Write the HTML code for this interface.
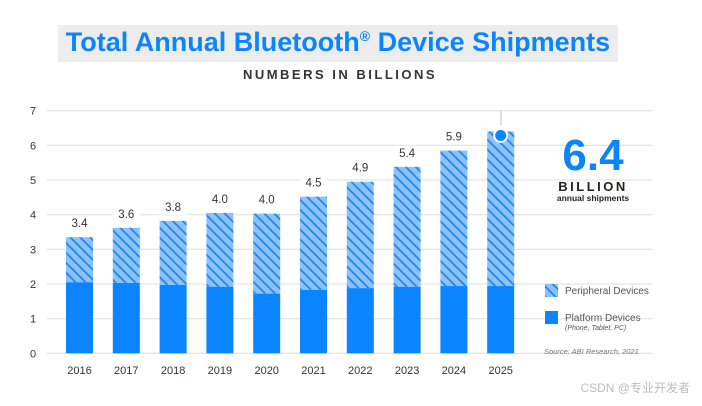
<!DOCTYPE html>
<html><head><meta charset="utf-8"><style>
body{margin:0;background:#fff;font-family:"Liberation Sans",sans-serif}
</style></head><body>
<svg width="702" height="401" viewBox="0 0 702 401" xmlns="http://www.w3.org/2000/svg">
<defs>
<pattern id="hatch" patternUnits="userSpaceOnUse" width="7" height="7" patternTransform="rotate(-45)">
<rect width="7" height="7" fill="#8cc3ff"/>
<rect x="0" y="0" width="1.8" height="7" fill="#1f86f5"/>
</pattern>
</defs>
<rect x="58" y="25" width="560" height="37" fill="#ececec"/>
<text x="338" y="51" text-anchor="middle" font-size="27" font-weight="bold" fill="#0a84ff">Total Annual Bluetooth<tspan font-size="14" dy="-10">®</tspan><tspan dy="10"> Device Shipments</tspan></text>
<text x="340" y="79" text-anchor="middle" font-size="13" font-weight="bold" fill="#333" letter-spacing="2.5">NUMBERS IN BILLIONS</text>
<g id="grid"></g>
<g id="bars"></g>
<g id="labels"></g>
<line x1="501" y1="111" x2="501" y2="125" stroke="#bbb" stroke-width="1"/>
<circle id="dot" cx="501" cy="132" r="6.5" fill="#0a84ff" stroke="#fff" stroke-width="2"/>
<text x="593" y="170" text-anchor="middle" font-size="44" font-weight="bold" fill="#0a84ff">6.4</text>
<text x="593" y="191" text-anchor="middle" font-size="13" font-weight="bold" fill="#222" letter-spacing="2.5">BILLION</text>
<text x="593" y="201" text-anchor="middle" font-size="8.5" font-weight="bold" fill="#222">annual shipments</text>
<rect x="545" y="284" width="13" height="13" fill="url(#hatch)"/>
<text x="565" y="294" font-size="10" fill="#555">Peripheral Devices</text>
<rect x="545" y="311" width="13" height="13" fill="#0a84ff"/>
<text x="565" y="321" font-size="10" fill="#555">Platform Devices</text>
<text x="565" y="330" font-size="7" font-style="italic" fill="#555">(Phone, Tablet, PC)</text>
<text x="544" y="354" font-size="7.5" font-style="italic" fill="#777">Source: ABI Research, 2021</text>
<text x="690" y="392" text-anchor="end" font-size="12" fill="#bbb" font-family="Liberation Sans, Noto Sans CJK SC, sans-serif">CSDN @专业开发者</text>
</svg>
<script>
const years=["2016","2017","2018","2019","2020","2021","2022","2023","2024","2025"];
const totals=[3.35,3.62,3.82,4.05,4.03,4.52,4.95,5.38,5.85,6.4];
const platform=[2.05,2.03,1.97,1.92,1.72,1.83,1.88,1.92,1.94,1.94];
const totalLabels=["3.4","3.6","3.8","4.0","4.0","4.5","4.9","5.4","5.9",""];
const ticks=[0,1,2,3,4,5,6,7];
const NS="http://www.w3.org/2000/svg";
const y=v=>353.3-v*34.66;
const x=i=>79.5+i*46.8;
const bw=27;
function mk(t,a,p){const e=document.createElementNS(NS,t);for(const k in a)e.setAttribute(k,a[k]);p.appendChild(e);return e;}
const grid=document.getElementById('grid'),bars=document.getElementById('bars'),labels=document.getElementById('labels');
ticks.forEach(t=>{
 const l=mk('line',{x1:47,x2:652,y1:y(t),y2:y(t),stroke:'#e4e4e4','stroke-width':1.3},grid);
 
 
 const tx=mk('text',{x:33,y:y(t)+4,'text-anchor':'middle','font-size':11,fill:'#333'},grid);
 tx.textContent=t;
 
 
});
years.forEach((yr,i)=>{
 const cx=x(i);
 const p=mk('rect',{x:cx-bw/2,y:y(totals[i]),width:bw,height:y(platform[i])-y(totals[i]),fill:'url(#hatch)'},bars);
 
 
 const b=mk('rect',{x:cx-bw/2,y:y(platform[i]),width:bw,height:y(0)-y(platform[i]),fill:'#0a84ff'},bars);
 
 
 const xl=mk('text',{x:cx,y:374,'text-anchor':'middle','font-size':11,fill:'#333'},labels);
 xl.textContent=yr;
 
 
 if(totalLabels[i]){
  const ly=y(totals[i])-10;
  const bg=mk('rect',{x:cx-14,y:ly-11,width:28,height:15,fill:'#fff'},labels);
  
  
  const vl=mk('text',{x:cx,y:ly,'text-anchor':'middle','font-size':11.5,fill:'#333'},labels);
  vl.textContent=totalLabels[i];
  
  
 }
});
const d=document.getElementById('dot');d.setAttribute('cx',x(9));d.setAttribute('cy',y(totals[9])+4);
</script>
</body></html>
